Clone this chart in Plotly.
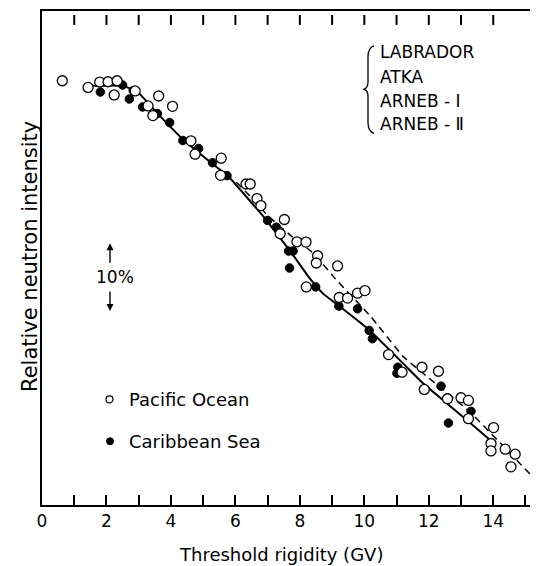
import plotly.graph_objects as go

# ---------------- data ----------------
# Pacific Ocean (open circles): threshold rigidity (GV), relative neutron intensity (%)
pac_x = [0.63, 1.43, 1.79, 2.05, 2.33, 2.24, 2.89, 3.62, 4.05, 3.29, 3.44, 4.62, 4.75,
         5.56, 5.54, 6.33, 6.46, 6.67, 6.79, 7.52, 7.39, 7.91, 8.19, 8.55, 8.51, 9.17,
         8.20, 9.22, 9.48, 9.79, 10.02, 10.75, 11.17, 11.79, 12.30, 11.86, 12.58, 13.00,
         13.23, 13.23, 14.01, 13.93, 13.93, 14.37, 14.68, 14.55]
pac_y = [100.0, 99.01, 99.81, 99.85, 100.0, 97.90, 98.49, 97.75, 96.22, 96.28, 94.85,
         91.13, 89.16, 88.57, 86.03, 84.75, 84.75, 82.60, 81.57, 79.51, 77.40, 76.22,
         76.18, 74.16, 73.09, 72.65, 69.56, 67.99, 67.90, 68.63, 69.01, 59.56, 56.96,
         57.69, 57.10, 54.41, 53.04, 53.19, 52.79, 50.10, 48.78, 46.43, 45.34, 45.59,
         44.85, 42.99]

# Caribbean Sea (filled circles)
car_x = [1.81, 2.50, 2.71, 2.83, 3.12, 3.58, 3.96, 4.37, 4.86, 5.29, 5.74, 7.00, 7.27,
         7.65, 7.79, 7.68, 8.49, 9.21, 9.79, 10.15, 10.25, 11.04, 11.01, 12.38, 13.31,
         12.61]
car_y = [98.34, 99.37, 97.31, 98.53, 96.13, 95.15, 93.82, 91.18, 90.00, 87.90, 85.99,
         79.37, 78.38, 74.85, 74.85, 72.35, 69.56, 66.72, 66.32, 63.13, 61.91, 57.69,
         56.81, 54.90, 51.18, 49.46]

# Solid curve (Caribbean Sea)
fit_car_x = [1.44, 1.81, 2.49, 2.96, 3.58, 4.38, 5.31, 5.75, 6.46, 6.86, 7.70, 8.32,
             8.73, 9.25, 10.18, 11.32, 11.83, 13.07, 13.91]
fit_car_y = [99.26, 99.26, 99.26, 98.38, 95.19, 91.32, 87.65, 86.03, 82.21, 80.00,
             74.85, 70.74, 68.53, 66.62, 63.09, 57.69, 55.29, 50.34, 46.91]

# Dashed curve (Pacific Ocean)
fit_pac_x = [6.03, 6.46, 6.99, 7.70, 8.41, 9.16, 10.18, 11.21, 11.98, 13.28, 15.14]
fit_pac_y = [85.00, 82.94, 80.15, 77.21, 74.56, 70.44, 65.29, 59.26, 56.18, 51.07, 41.91]

x_tick_vals = list(range(0, 16))
x_tick_text = ["0", "", "2", "", "4", "", "6", "", "8", "", "10", "", "12", "", "14", ""]
x_top_ticks = list(range(1, 15))
ship_labels = ["LABRADOR", "ATKA", "ARNEB - Ⅰ", "ARNEB - Ⅱ"]
legend_labels = ["Pacific Ocean", "Caribbean Sea"]
x_title = "Threshold rigidity (GV)"
y_title = "Relative neutron intensity"
scale_label = "10%"
scale_center = 71.0      # relative intensity at the centre of the 10 % bar
scale_span = 10.0        # percent

x_range = [0, 15.14]
y_range = [37.35, 110.3]

# ---------------- layout helpers ----------------
W, H = 539, 566
L, R, T, B = 42, 9, 9, 61
PW, PH = W - L - R, H - T - B
Y_PER_PX = (y_range[1] - y_range[0]) / PH


def px(x):
    return (x - L) / PW


def py(y):
    return (H - B - y) / PH


FONT = "DejaVu Sans"

fig = go.Figure()

# top tick marks drawn from the tick value list (detached from the frame)
tick_x, tick_y = [], []
for tv in x_top_ticks:
    tick_x += [tv, tv, None]
    tick_y += [y_range[1] - 4 * Y_PER_PX, y_range[1] - 14 * Y_PER_PX, None]
fig.add_trace(go.Scatter(x=tick_x, y=tick_y, mode="lines",
                         line=dict(color="black", width=2),
                         hoverinfo="skip", showlegend=False))

fig.add_trace(go.Scatter(x=fit_car_x, y=fit_car_y, mode="lines",
                         line=dict(color="black", width=2, shape="spline", smoothing=0.35),
                         hoverinfo="skip", showlegend=False))
fig.add_trace(go.Scatter(x=fit_pac_x, y=fit_pac_y, mode="lines",
                         line=dict(color="black", width=1.5, dash="7px,5px",
                                   shape="spline", smoothing=0.35),
                         hoverinfo="skip", showlegend=False))
fig.add_trace(go.Scatter(x=car_x, y=car_y, mode="markers", name=legend_labels[1],
                         marker=dict(symbol="circle", size=8.5, color="black",
                                     line=dict(color="black", width=1)),
                         showlegend=False))
fig.add_trace(go.Scatter(x=pac_x, y=pac_y, mode="markers", name=legend_labels[0],
                         marker=dict(symbol="circle", size=10, color="white",
                                     line=dict(color="black", width=1.3)),
                         showlegend=False))

annotations = []
shapes = []

# ship names with brace
ship_y = [50, 75, 99, 122]
for lab, yy in zip(ship_labels, ship_y):
    annotations.append(dict(x=px(378), y=py(yy), xref="paper", yref="paper",
                            text=lab, showarrow=False, xanchor="left", yanchor="middle",
                            font=dict(family=FONT, size=17, color="black")))

brace_pts = [("M", 374, 44), ("Q", 368, 46, 368, 55), ("L", 368, 80),
             ("Q", 368, 86, 364, 87.5), ("Q", 368, 89, 368, 95), ("L", 368, 121),
             ("Q", 368, 130, 374, 132)]
path = ""
for p in brace_pts:
    cmd = p[0]
    coords = p[1:]
    parts = []
    for i in range(0, len(coords), 2):
        parts.append(f"{px(coords[i]):.5f},{py(coords[i + 1]):.5f}")
    path += cmd + " " + " ".join(parts) + " "
shapes.append(dict(type="path", path=path.strip(), xref="paper", yref="paper",
                   line=dict(color="black", width=1.3)))

# legend (drawn manually)
leg_y = [399, 441]
shapes.append(dict(type="circle", xref="paper", yref="paper", xsizemode="pixel",
                   ysizemode="pixel", xanchor=px(109.5), yanchor=py(leg_y[0]),
                   x0=-3.5, x1=3.5, y0=-3.5, y1=3.5,
                   line=dict(color="black", width=1.2), fillcolor="white"))
shapes.append(dict(type="circle", xref="paper", yref="paper", xsizemode="pixel",
                   ysizemode="pixel", xanchor=px(110), yanchor=py(leg_y[1]),
                   x0=-3.5, x1=3.5, y0=-3.5, y1=3.5,
                   line=dict(color="black", width=1), fillcolor="black"))
for lab, yy in zip(legend_labels, leg_y):
    annotations.append(dict(x=px(127), y=py(yy), xref="paper", yref="paper", text=lab,
                            showarrow=False, xanchor="left", yanchor="middle",
                            font=dict(family=FONT, size=18, color="black")))

# 10 % scale bar
annotations.append(dict(x=px(115), y=scale_center, xref="paper", yref="y",
                        text=scale_label, showarrow=False, xanchor="center",
                        yanchor="middle", font=dict(family=FONT, size=17, color="black")))
annotations.append(dict(x=px(110), y=scale_center + scale_span / 2, xref="paper", yref="y",
                        text="", showarrow=True, ax=0, ay=21, arrowhead=2, arrowsize=1,
                        arrowwidth=1.4, arrowcolor="black"))
annotations.append(dict(x=px(110), y=scale_center - scale_span / 2, xref="paper", yref="y",
                        text="", showarrow=True, ax=0, ay=-21, arrowhead=2, arrowsize=1,
                        arrowwidth=1.4, arrowcolor="black"))

# axis titles
annotations.append(dict(x=px(281), y=py(555), xref="paper", yref="paper", text=x_title,
                        showarrow=False, xanchor="center", yanchor="middle",
                        font=dict(family=FONT, size=18, color="black")))
annotations.append(dict(x=px(30), y=py(256), xref="paper", yref="paper", text=y_title,
                        showarrow=False, xanchor="center", yanchor="middle", textangle=-90,
                        font=dict(family=FONT, size=21, color="black")))

fig.update_layout(
    width=W, height=H,
    margin=dict(l=L, r=R, t=T, b=B, pad=0),
    paper_bgcolor="white", plot_bgcolor="white",
    showlegend=False,
    annotations=annotations,
    shapes=shapes,
    xaxis=dict(range=x_range, tickmode="array", tickvals=x_tick_vals, ticktext=x_tick_text,
               ticks="inside", ticklen=10, tickwidth=2, tickcolor="black",
               showline=True, linewidth=2, linecolor="black", mirror=True,
               showgrid=False, zeroline=False,
               tickfont=dict(family=FONT, size=17, color="black")),
    yaxis=dict(range=y_range, showticklabels=False, ticks="", showline=True,
               linewidth=2, linecolor="black", mirror=False, showgrid=False,
               zeroline=False),
)

fig.write_html("out.html")
